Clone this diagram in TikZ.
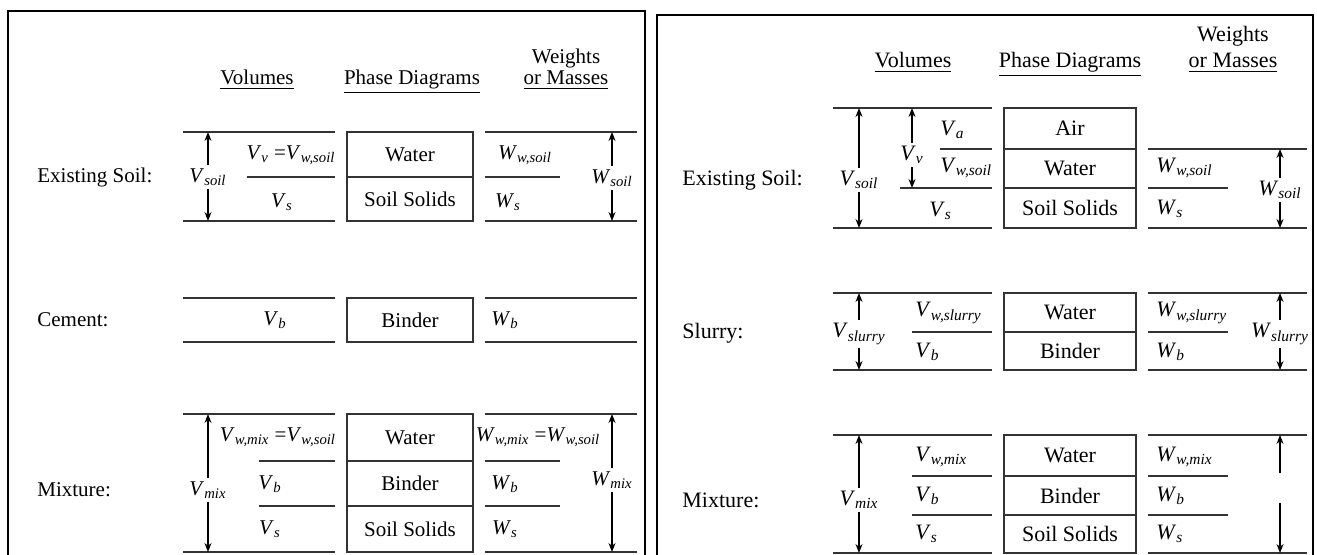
\documentclass[tikz,border=0pt]{standalone}
\usepackage{fontspec}
\setmainfont{Liberation Serif}
\usetikzlibrary{arrows.meta,positioning}

\newcommand{\qsub}[2]{\textit{#1}\textsubscript{\textit{#2}}}

\begin{document}
\begin{tikzpicture}[
    x=0.5pt, y=-0.5pt,
    font=\fontsize{10.5}{12}\selectfont,
    frame/.style={draw, line width=0.9pt},
    hline/.style={draw=black!80, line width=1pt},
    phase/.style={rectangle, draw=black!80, line width=0.9pt, minimum width=63pt, inner sep=0pt, outer sep=0pt},
    dimarrow/.style={-{Stealth[length=4.5pt, width=3.5pt]}, line width=0.6pt},
    qty/.style={inner sep=1.5pt},
    rowname/.style={anchor=west, inner sep=0pt},
    head/.style={anchor=base, inner sep=0pt},
]
\clip (0,0) rectangle (1317,555);

% ---------------- left panel ----------------
\draw[frame] (8,11) rectangle (645,580);
\node[head] (l-vol) at (257,85) {\underline{Volumes}};
\node[head] (l-pd) at (412,85) {\underline{Phase Diagrams}};
\node[head] (l-wt) at (566,64) {Weights};
\node[head] (l-mass) at (566,85) {\underline{or Masses}};

% Existing soil
\node[rowname] (ls-name) at (37,177) {Existing Soil:};
\draw[hline] (183,132) coordinate (ls-vt) -- (335,132);
\draw[hline] (247,177) -- (335,177);
\draw[hline] (183,221) coordinate (ls-vb) -- (335,221);
\node[qty] (ls-vsoil) at (208,177) {\qsub{V}{soil}};
\draw[dimarrow] (ls-vsoil.north) -- (ls-vsoil.north |- ls-vt);
\draw[dimarrow] (ls-vsoil.south) -- (ls-vsoil.south |- ls-vb);
\node[qty] (ls-vv) at (291,155) {\qsub{V}{v} =\qsub{V}{w,soil}};
\node[qty] (ls-vs) at (282,202) {\qsub{V}{s}};
\node[phase, minimum height=22.5pt, anchor=north] (ls-water) at (410,132) {Water};
\node[phase, minimum height=22pt, below=0pt of ls-water] (ls-solids) {Soil Solids};
\draw[hline] (485,132) coordinate (ls-wt) -- (637,132);
\draw[hline] (485,177) -- (560,177);
\draw[hline] (485,221) coordinate (ls-wb) -- (637,221);
\node[qty] (ls-ww) at (525,155) {\qsub{W}{w,soil}};
\node[qty] (ls-ws) at (508,202) {\qsub{W}{s}};
\node[qty] (ls-wsoil) at (612,178) {\qsub{W}{soil}};
\draw[dimarrow] (ls-wsoil.north) -- (ls-wsoil.north |- ls-wt);
\draw[dimarrow] (ls-wsoil.south) -- (ls-wsoil.south |- ls-wb);

% Cement
\node[rowname] (lc-name) at (37,320) {Cement:};
\draw[hline] (183,298) -- (335,298);
\draw[hline] (183,342) -- (335,342);
\node[qty] (lc-vb) at (275,320) {\qsub{V}{b}};
\node[phase, minimum height=22pt, anchor=north] (lc-binder) at (410,298) {Binder};
\draw[hline] (485,298) -- (637,298);
\draw[hline] (485,342) -- (637,342);
\node[qty] (lc-wb) at (505,320) {\qsub{W}{b}};

% Mixture
\node[rowname] (lm-name) at (37,490) {Mixture:};
\draw[hline] (183,414) coordinate (lm-vt) -- (335,414);
\draw[hline] (259,461) -- (335,461);
\draw[hline] (259,506) -- (335,506);
\draw[hline] (183,552) coordinate (lm-vb) -- (335,552);
\node[qty] (lm-vmix) at (208,490) {\qsub{V}{mix}};
\draw[dimarrow] (lm-vmix.north) -- (lm-vmix.north |- lm-vt);
\draw[dimarrow] (lm-vmix.south) -- (lm-vmix.south |- lm-vb);
\node[qty] (lm-vw) at (278,437) {\qsub{V}{w,mix} =\qsub{V}{w,soil}};
\node[qty] (lm-vb) at (270,484) {\qsub{V}{b}};
\node[qty] (lm-vs) at (270,529) {\qsub{V}{s}};
\node[phase, minimum height=23.5pt, anchor=north] (lm-water) at (410,414) {Water};
\node[phase, minimum height=22.5pt, below=0pt of lm-water] (lm-binder) {Binder};
\node[phase, minimum height=23pt, below=0pt of lm-binder] (lm-solids) {Soil Solids};
\draw[hline] (485,414) coordinate (lm-wt) -- (637,414);
\draw[hline] (485,461) -- (560,461);
\draw[hline] (485,506) -- (560,506);
\draw[hline] (485,552) coordinate (lm-wb) -- (637,552);
\node[qty] (lm-ww) at (538,437) {\qsub{W}{w,mix} =\qsub{W}{w,soil}};
\node[qty] (lm-wb2) at (505,484) {\qsub{W}{b}};
\node[qty] (lm-ws) at (505,529) {\qsub{W}{s}};
\node[qty] (lm-wmix) at (612,480) {\qsub{W}{mix}};
\draw[dimarrow] (lm-wmix.north) -- (lm-wmix.north |- lm-wt);
\draw[dimarrow] (lm-wmix.south) -- (lm-wmix.south |- lm-wb);

% ---------------- right panel ----------------
\begin{scope}[font=\fontsize{11}{13}\selectfont]
\draw[frame] (657,15) rectangle (1313,580);
\node[head] (r-vol) at (913,68) {\underline{Volumes}};
\node[head] (r-pd) at (1070,68) {\underline{Phase Diagrams}};
\node[head] (r-wt) at (1233,42) {Weights};
\node[head] (r-mass) at (1233,68) {\underline{or Masses}};

% Existing soil
\node[rowname] (rs-name) at (682,180) {Existing Soil:};
\draw[hline] (833,108) coordinate (rs-vt) -- (992,108);
\draw[hline] (940,149) -- (992,149);
\draw[hline] (900,188) coordinate (rs-vm) -- (992,188);
\draw[hline] (833,228) coordinate (rs-vb) -- (992,228);
\node[qty] (rs-vsoil) at (859,180) {\qsub{V}{soil}};
\draw[dimarrow] (rs-vsoil.north) -- (rs-vsoil.north |- rs-vt);
\draw[dimarrow] (rs-vsoil.south) -- (rs-vsoil.south |- rs-vb);
\node[qty] (rs-vv) at (912,155) {\qsub{V}{v}};
\draw[dimarrow] (rs-vv.north) -- (rs-vv.north |- rs-vt);
\draw[dimarrow] (rs-vv.south) -- (rs-vv.south |- rs-vm);
\node[qty, anchor=west] (rs-va) at (937,130) {\qsub{V}{a}};
\node[qty, anchor=west] (rs-vw) at (937,168) {\qsub{V}{w,soil}};
\node[qty, anchor=west] (rs-vs) at (926,211) {\qsub{V}{s}};
\node[phase, minimum height=20.5pt, minimum width=66pt, anchor=north] (rs-air) at (1070,108) {Air};
\node[phase, minimum height=19.5pt, minimum width=66pt, below=0pt of rs-air] (rs-water) {Water};
\node[phase, minimum height=20pt, minimum width=66pt, below=0pt of rs-water] (rs-solids) {Soil Solids};
\draw[hline] (1148,149) coordinate (rs-wt) -- (1307,149);
\draw[hline] (1148,188) -- (1228,188);
\draw[hline] (1148,228) coordinate (rs-wb) -- (1307,228);
\node[qty, anchor=west] (rs-ww) at (1153,168) {\qsub{W}{w,soil}};
\node[qty, anchor=west] (rs-ws) at (1153,209) {\qsub{W}{s}};
\node[qty] (rs-wsoil) at (1280,190) {\qsub{W}{soil}};
\draw[dimarrow] (rs-wsoil.north) -- (rs-wsoil.north |- rs-wt);
\draw[dimarrow] (rs-wsoil.south) -- (rs-wsoil.south |- rs-wb);

% Slurry
\node[rowname] (rl-name) at (682,333) {Slurry:};
\draw[hline] (833,293) coordinate (rl-vt) -- (992,293);
\draw[hline] (912,332) -- (992,332);
\draw[hline] (833,370) coordinate (rl-vb) -- (992,370);
\node[qty] (rl-vslurry) at (859,334) {\qsub{V}{slurry}};
\draw[dimarrow] (rl-vslurry.north) -- (rl-vslurry.north |- rl-vt);
\draw[dimarrow] (rl-vslurry.south) -- (rl-vslurry.south |- rl-vb);
\node[qty, anchor=west] (rl-vw) at (912,313) {\qsub{V}{w,slurry}};
\node[qty, anchor=west] (rl-vb2) at (912,352) {\qsub{V}{b}};
\node[phase, minimum height=19.5pt, minimum width=66pt, anchor=north] (rl-water) at (1070,293) {Water};
\node[phase, minimum height=19pt, minimum width=66pt, below=0pt of rl-water] (rl-binder) {Binder};
\draw[hline] (1148,293) coordinate (rl-wt) -- (1307,293);
\draw[hline] (1148,332) -- (1228,332);
\draw[hline] (1148,370) coordinate (rl-wb) -- (1307,370);
\node[qty, anchor=west] (rl-ww) at (1153,313) {\qsub{W}{w,slurry}};
\node[qty, anchor=west] (rl-wb2) at (1153,352) {\qsub{W}{b}};
\node[qty] (rl-wslurry) at (1280,334) {\qsub{W}{slurry}};
\draw[dimarrow] (rl-wslurry.north) -- (rl-wslurry.north |- rl-wt);
\draw[dimarrow] (rl-wslurry.south) -- (rl-wslurry.south |- rl-wb);

% Mixture
\node[rowname] (rm-name) at (682,500) {Mixture:};
\draw[hline] (833,435) coordinate (rm-vt) -- (992,435);
\draw[hline] (912,476) -- (992,476);
\draw[hline] (912,515) -- (992,515);
\draw[hline] (833,553) coordinate (rm-vb) -- (992,553);
\node[qty] (rm-vmix) at (859,500) {\qsub{V}{mix}};
\draw[dimarrow] (rm-vmix.north) -- (rm-vmix.north |- rm-vt);
\draw[dimarrow] (rm-vmix.south) -- (rm-vmix.south |- rm-vb);
\node[qty, anchor=west] (rm-vw) at (912,457) {\qsub{V}{w,mix}};
\node[qty, anchor=west] (rm-vb2) at (912,496) {\qsub{V}{b}};
\node[qty, anchor=west] (rm-vs) at (912,534) {\qsub{V}{s}};
\node[phase, minimum height=20.5pt, minimum width=66pt, anchor=north] (rm-water) at (1070,435) {Water};
\node[phase, minimum height=19.5pt, minimum width=66pt, below=0pt of rm-water] (rm-binder) {Binder};
\node[phase, minimum height=19pt, minimum width=66pt, below=0pt of rm-binder] (rm-solids) {Soil Solids};
\draw[hline] (1148,435) coordinate (rm-wt) -- (1307,435);
\draw[hline] (1148,476) -- (1228,476);
\draw[hline] (1148,515) -- (1228,515);
\draw[hline] (1148,553) coordinate (rm-wb) -- (1307,553);
\node[qty, anchor=west] (rm-ww) at (1153,457) {\qsub{W}{w,mix}};
\node[qty, anchor=west] (rm-wb2) at (1153,496) {\qsub{W}{b}};
\node[qty, anchor=west] (rm-ws) at (1153,534) {\qsub{W}{s}};
\node[inner sep=0pt, minimum height=15pt] (rm-wgap) at (1280,488) {};
\draw[dimarrow] (rm-wgap.north) -- (rm-wgap.north |- rm-wt);
\draw[dimarrow] (rm-wgap.south) -- (rm-wgap.south |- rm-wb);
\end{scope}
\end{tikzpicture}
\end{document}
